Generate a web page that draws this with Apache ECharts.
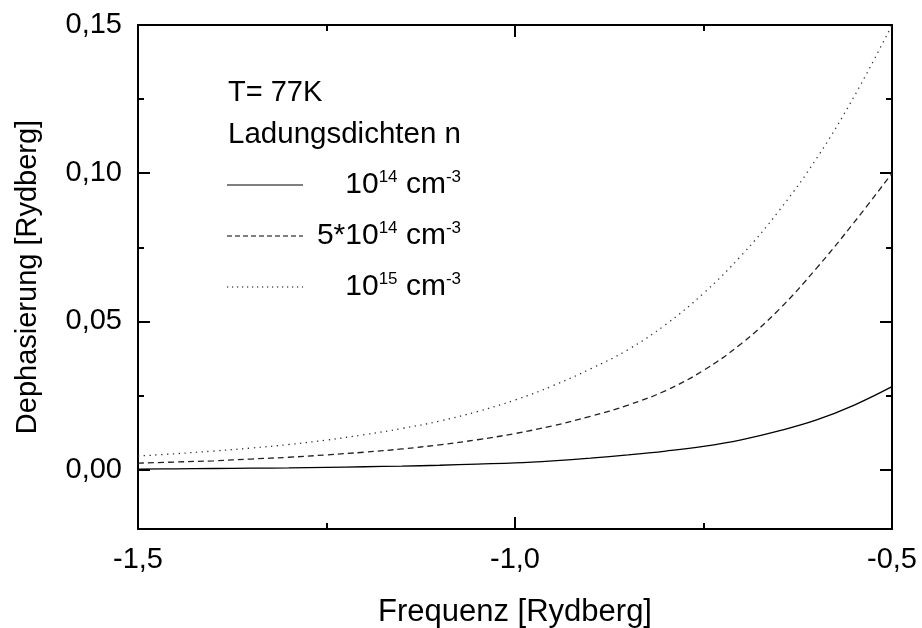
<!DOCTYPE html>
<html>
<head>
<meta charset="utf-8">
<title>Dephasierung</title>
<script src="https://cdn.jsdelivr.net/npm/echarts@6/dist/echarts.min.js"></script>
<style>
  html, body { margin: 0; padding: 0; background: #ffffff; }
  #chart { width: 922px; height: 628px; }
</style>
</head>
<body>
<div id="chart"></div>
<script>
// Frequency grid (Rydberg), step 0.05
const frequenz = [-1.50, -1.45, -1.40, -1.35, -1.30, -1.25, -1.20, -1.15, -1.10, -1.05, -1.00,
                  -0.95, -0.90, -0.85, -0.80, -0.75, -0.70, -0.65, -0.60, -0.55, -0.50];

// Dephasing (Rydberg) at T = 77 K for three carrier densities
const dichte1e14 = [0.0002, 0.0003, 0.0004, 0.0005, 0.0006, 0.0008, 0.0010, 0.0012, 0.0015, 0.0019, 0.0023,
                    0.0030, 0.0039, 0.0050, 0.0063, 0.0079, 0.0101, 0.0131, 0.0168, 0.0218, 0.0280];
const dichte5e14 = [0.0022, 0.0026, 0.0030, 0.0036, 0.0042, 0.0050, 0.0059, 0.0070, 0.0084, 0.0101, 0.0122,
                    0.0148, 0.0180, 0.0218, 0.0267, 0.0335, 0.0425, 0.0540, 0.0680, 0.0835, 0.1000];
const dichte1e15 = [0.0046, 0.0054, 0.0063, 0.0073, 0.0085, 0.0100, 0.0118, 0.0139, 0.0164, 0.0196, 0.0235,
                    0.0283, 0.0340, 0.0405, 0.0490, 0.0595, 0.0722, 0.0873, 0.1050, 0.1260, 0.1500];

// Axis ticks
const xMin = -1.5, xMax = -0.5, xStep = 0.5;
const yMin = -0.02, yMax = 0.15;
const yMajorTicks = [0, 0.05, 0.10, 0.15];
const yMinorTicks = [0.025, 0.075, 0.125];

const pairs = (ys) => frequenz.map((x, i) => [x, ys[i]]);
const fmtX = (v) => v.toFixed(1).replace('.', ',');
const fmtY = (v) => v.toFixed(2).replace('.', ',');

const FONT = 'Liberation Sans, Arial, sans-serif';
const frameLine = { show: true, onZero: false, lineStyle: { color: '#000', width: 2 } };

function yAxisDef(position, ticks, len, withLabels) {
  return {
    type: 'value', min: yMin, max: yMax, position: position,
    axisLine: frameLine,
    axisTick: { show: true, inside: true, length: len, customValues: ticks, lineStyle: { color: '#000', width: 2 } },
    axisLabel: withLabels ? {
      show: true, customValues: ticks, formatter: fmtY, margin: 16,
      color: '#000', fontFamily: FONT, fontSize: 29
    } : { show: false },
    splitLine: { show: false }
  };
}

function xAxisDef(position, withLabels) {
  return {
    type: 'value', min: xMin, max: xMax, interval: xStep, position: position,
    axisLine: frameLine,
    axisTick: { show: true, inside: true, length: 12, lineStyle: { color: '#000', width: 2 } },
    minorTick: { show: true, splitNumber: 2, length: 6, lineStyle: { color: '#000', width: 2 } },
    axisLabel: withLabels ? {
      show: true, formatter: fmtX, margin: 16, showMinLabel: true, showMaxLabel: true,
      color: '#000', fontFamily: FONT, fontSize: 29
    } : { show: false },
    splitLine: { show: false }
  };
}

const bottomX = xAxisDef('bottom', true);
bottomX.name = 'Frequenz [Rydberg]';
bottomX.nameLocation = 'middle';
bottomX.nameGap = 68;
bottomX.nameTextStyle = { color: '#000', fontFamily: FONT, fontSize: 31 };

const leftY = yAxisDef('left', yMajorTicks, 12, true);
leftY.name = 'Dephasierung [Rydberg]';
leftY.nameLocation = 'middle';
leftY.nameGap = 96;
leftY.nameTextStyle = { color: '#000', fontFamily: FONT, fontSize: 29 };

// Legend block: sample lines plus density labels with superscripts
const legendX0 = 227, legendX1 = 303, legendTextRight = 461;
const legendRows = [
  { y: 185, dash: 'solid', text: '{b|10}{s|14}{b| cm}{s|-3}' },
  { y: 236, dash: [5, 3], text: '{b|5*10}{s|14}{b| cm}{s|-3}' },
  { y: 287, dash: [1.2, 3.8], text: '{b|10}{s|15}{b| cm}{s|-3}' }
];
const richStyle = {
  b: { fontSize: 30, fontFamily: FONT, fill: '#000', verticalAlign: 'bottom', lineHeight: 31 },
  s: { fontSize: 17, fontFamily: FONT, fill: '#000', verticalAlign: 'top', lineHeight: 31 }
};
const legendGraphics = [
  { type: 'text', left: 228, top: 78, style: { text: 'T= 77K', fontFamily: FONT, fontSize: 29, fill: '#000' } },
  { type: 'text', left: 228, top: 120, style: { text: 'Ladungsdichten n', fontFamily: FONT, fontSize: 29.5, fill: '#000' } }
];
legendRows.forEach((r) => {
  legendGraphics.push({
    type: 'line',
    shape: { x1: legendX0, y1: r.y, x2: legendX1, y2: r.y },
    style: { stroke: '#000', lineWidth: 1.2, lineDash: r.dash === 'solid' ? null : r.dash }
  });
  legendGraphics.push({
    type: 'text', x: legendTextRight, y: r.y - 1,
    style: { text: r.text, rich: richStyle, align: 'right', verticalAlign: 'middle', fill: '#000' }
  });
});

const chart = echarts.init(document.getElementById('chart'), null, { renderer: 'canvas' });
chart.setOption({
  animation: false,
  backgroundColor: '#ffffff',
  grid: { left: 138, top: 25, right: 30, bottom: 99, containLabel: false, outerBoundsMode: 'none' },
  xAxis: [bottomX, xAxisDef('top', false)],
  yAxis: [
    leftY,
    yAxisDef('left', yMinorTicks, 6, false),
    yAxisDef('right', yMajorTicks, 12, false),
    yAxisDef('right', yMinorTicks, 6, false)
  ],
  series: [
    { name: '10^14 cm^-3', type: 'line', data: pairs(dichte1e14), smooth: 0.4, showSymbol: false,
      lineStyle: { color: '#000', width: 1.3, type: 'solid' } },
    { name: '5*10^14 cm^-3', type: 'line', data: pairs(dichte5e14), smooth: 0.4, showSymbol: false,
      lineStyle: { color: '#222', width: 1.3, type: [6, 4] } },
    { name: '10^15 cm^-3', type: 'line', data: pairs(dichte1e15), smooth: 0.4, showSymbol: false,
      lineStyle: { color: '#333', width: 1.3, type: [1.3, 4.5] } }
  ],
  graphic: legendGraphics
});
</script>
</body>
</html>
